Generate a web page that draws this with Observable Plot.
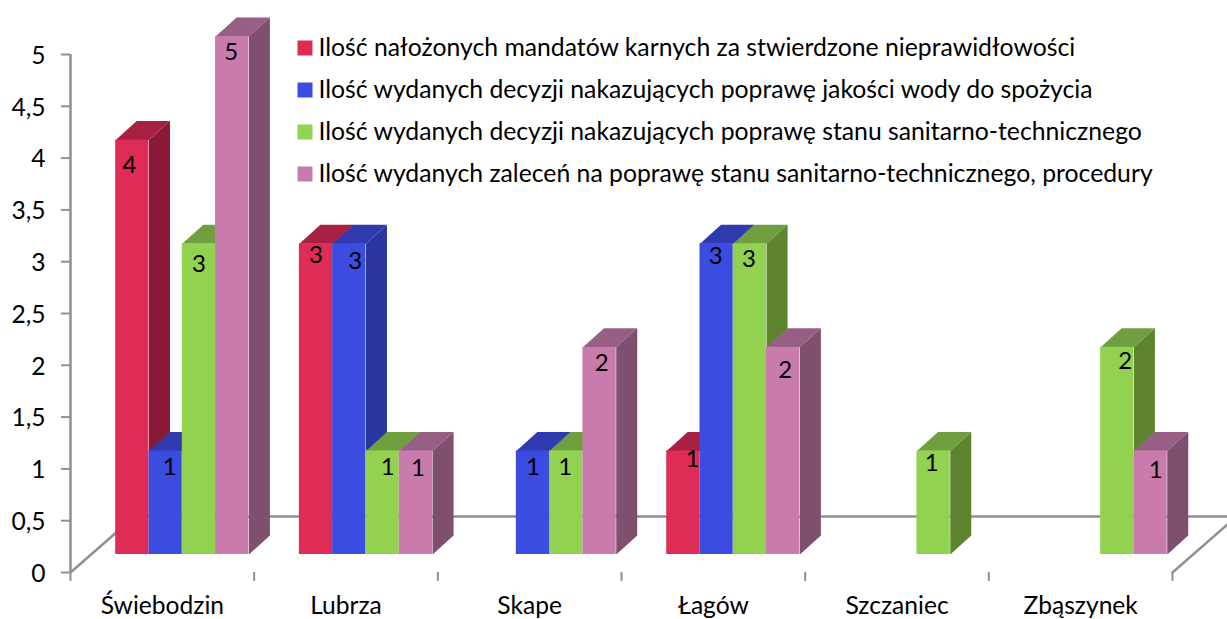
<!DOCTYPE html>
<html><head><meta charset="utf-8">
<script src="https://cdn.jsdelivr.net/npm/d3@7"></script>
<script src="https://cdn.jsdelivr.net/npm/@observablehq/plot@0.6"></script>
<style>html,body{margin:0;padding:0;background:#fff;overflow:hidden}svg{display:block}</style>
</head><body>
<script>
const categories = ["Świebodzin", "Lubrza", "Skape", "Łagów", "Szczaniec", "Zbąszynek"];
const seriesNames = [
  "Ilość nałożonych mandatów karnych za stwierdzone nieprawidłowości",
  "Ilość wydanych decyzji nakazujących poprawę jakości wody do spożycia",
  "Ilość wydanych decyzji nakazujących poprawę stanu sanitarno-technicznego",
  "Ilość wydanych zaleceń na poprawę stanu sanitarno-technicznego, procedury"
];
const mandaty   = [4, 3, null, 1, null, null];
const decyzjeWoda = [1, 3, 1, 3, null, null];
const decyzjeStan = [3, 1, 1, 3, 1, 2];
const zalecenia = [5, 1, 2, 2, null, 1];
const seriesValues = [mandaty, decyzjeWoda, decyzjeStan, zalecenia];
const yTicks = [0, 0.5, 1, 1.5, 2, 2.5, 3, 3.5, 4, 4.5, 5];

// styling and 3D projection (data units of the two scales)
const frontColors = ["#DF2C57", "#3C4BE0", "#92D250", "#C97BAD"];
const sideColors  = ["#8B1A38", "#2B35A0", "#5F8430", "#7F4F6E"];
const topColors   = ["#A82042", "#2E3AAE", "#6F9F3E", "#985F85"];
const axisGray = "#909090";
const font = "Lato, sans-serif";
const barW = 33.3 / 183.67, groupStart = 45.2 / 183.67;
const depthX = 21 / 183.67, depthY = 19 / 103.6, baseY = 18 / 103.6;
const floorX = 64 / 183.67, floorY = 56 / 103.6;
// hand placement of the data labels, as in the source chart: [dx, dy] in pixels
const labelNudge = [
  [[-3,  25], [ 4,  16], [ 0,  21], [-1,  16]],
  [[ 0,  12], [ 6,  18], [ 5,  16], [ 2,  17]],
  [null,      [ 0,  16], [-1,  16], [ 2,  16]],
  [[ 9,   8], [-1,  13], [-1,  16], [ 2,  23]],
  [null, null, [-2, 12], null],
  [null, null, [ 8, 14], [ 5, 19]]
];

const bars = [];
categories.forEach((c, i) => seriesValues.forEach((vals, s) => {
  if (vals[i] == null) return;
  const x1 = i + groupStart + s * barW, x2 = x1 + barW;
  bars.push({id: i + "-" + s, i, s, v: vals[i], x1, x2, y1: baseY, y2: baseY + vals[i]});
}));
const faces = bars.flatMap(b => [
  [[b.x1, b.y2], [b.x2, b.y2], [b.x2 + depthX, b.y2 + depthY], [b.x1 + depthX, b.y2 + depthY]]
    .map(([x, y]) => ({x, y, z: b.id + "t", fill: topColors[b.s]})),
  [[b.x2, b.y1], [b.x2 + depthX, b.y1 + depthY], [b.x2 + depthX, b.y2 + depthY], [b.x2, b.y2]]
    .map(([x, y]) => ({x, y, z: b.id + "s", fill: sideColors[b.s]}))
]).flat();
const floor = [
  {x: 0, y: 0}, {x: floorX, y: floorY}, {x: 6 + floorX, y: floorY}, {x: 6, y: 0}
];

const legendRows = [47.5 - 54, 89.5 - 54, 131.5 - 54, 173.5 - 54];
const legendMarks = seriesNames.flatMap((name, s) => [
  Plot.dot([name], {frameAnchor: "top-left", dx: 304.5 - 70, dy: legendRows[s], symbol: "square", r: 8.46, fill: frontColors[s], stroke: "none"}),
  Plot.text([name], {frameAnchor: "top-left", dx: 318 - 70, dy: legendRows[s], text: d => d, textAnchor: "start", lineAnchor: "middle", fontSize: 24.75, fontFamily: font, fill: "#000"})
]);
const labelMarks = bars.map(b => {
  const [dx, dy] = labelNudge[b.i][b.s];
  return Plot.text([b], {x: d => (d.x1 + d.x2) / 2, y: "y2", text: d => String(d.v), dx, dy, fontSize: 24, fontFamily: font, fill: "#000"});
});

const chart = Plot.plot({
  width: 1227, height: 619,
  marginLeft: 70, marginRight: 55, marginTop: 54, marginBottom: 47,
  style: {background: "#fff", fontFamily: font},
  x: {domain: [0, 6]},
  y: {domain: [0, 5]},
  color: {type: "identity"},
  marks: [
    Plot.line(floor, {x: "x", y: "y", stroke: axisGray, strokeWidth: 2.5, curve: "linear"}),
    Plot.axisY({ticks: yTicks, tickSize: 9, stroke: axisGray, strokeWidth: 2, tickFormat: () => "", label: null, marginLeft: 70}),
    Plot.textY(yTicks, {y: d => d, frameAnchor: "left", dx: -25, textAnchor: "end", dy: 1.5, fontSize: 24.6, fontFamily: font, fill: "#000",
      text: d => String(d).replace(".", ",")}),
    Plot.ruleX([0], {y1: 0, y2: 5, stroke: axisGray, strokeWidth: 2.5}),
    Plot.axisX({ticks: [0, 1, 2, 3, 4, 5, 6], tickSize: 9, stroke: axisGray, strokeWidth: 2, tickFormat: () => "", label: null}),
    Plot.axisX({ticks: categories.map((c, i) => i + 0.5), tickSize: 0, tickPadding: 24, fontSize: 24.6,
      tickFormat: d => categories[d - 0.5], label: null}),
    Plot.line(faces, {x: "x", y: "y", z: "z", fill: "fill", stroke: "none", curve: "linear"}),
    Plot.rect(bars, {x1: "x1", x2: "x2", y1: "y1", y2: "y2", fill: d => frontColors[d.s], inset: 0}),
    ...labelMarks,
    ...legendMarks
  ]
});
document.body.appendChild(chart);
</script>
</body></html>
